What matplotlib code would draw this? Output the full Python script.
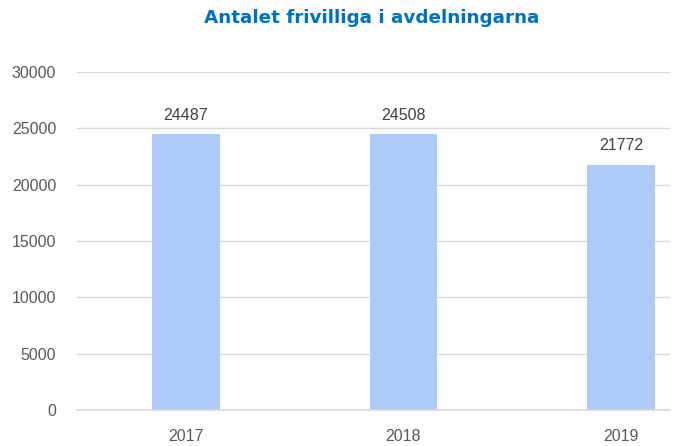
import matplotlib
matplotlib.use("Agg")
import matplotlib.pyplot as plt
import numpy as np

# Data
years = ["2017", "2018", "2019"]
volunteers = [24487, 24508, 21772]
yticks = [0, 5000, 10000, 15000, 20000, 25000, 30000]

bar_color = "#ACCBF9"
text_color = "#595959"
grid_color = "#D9D9D9"

plt.rcParams["font.family"] = ["Liberation Sans", "DejaVu Sans"]

fig = plt.figure(figsize=(6.73, 4.46), dpi=100)
ax = fig.add_axes([77 / 673, 1 - 410 / 446, (670 - 77) / 673, (410 - 72) / 446])

x = np.arange(len(years))
bars = ax.bar(x, volunteers, width=0.31, color=bar_color, zorder=2)

for xi, v in zip(x, volunteers):
    ax.text(xi, v + 1000, str(v), ha="center", va="bottom",
            fontsize=11.5, color="#404040")

ax.set_xlim(-0.5, 2.225)
ax.set_ylim(0, 30000)
ax.set_yticks(yticks)
ax.set_yticklabels([str(t) for t in yticks])
ax.set_xticks(x)
ax.set_xticklabels(years)

ax.grid(axis="y", color=grid_color, linewidth=1, zorder=0)
for s in ["top", "right", "left"]:
    ax.spines[s].set_visible(False)
ax.spines["bottom"].set_color(grid_color)
ax.spines["bottom"].set_linewidth(1.2)

ax.tick_params(axis="both", length=0, labelsize=11.5, labelcolor=text_color)
ax.tick_params(axis="y", pad=15)
ax.tick_params(axis="x", pad=14)

fig.text(372 / 673, 1 - 18 / 446, "Antalet frivilliga i avdelningarna",
         ha="center", va="center", fontsize=13.2, fontweight="bold",
         color="#0070C0", family=["DejaVu Sans"])

fig.savefig("out.png", dpi=100)
